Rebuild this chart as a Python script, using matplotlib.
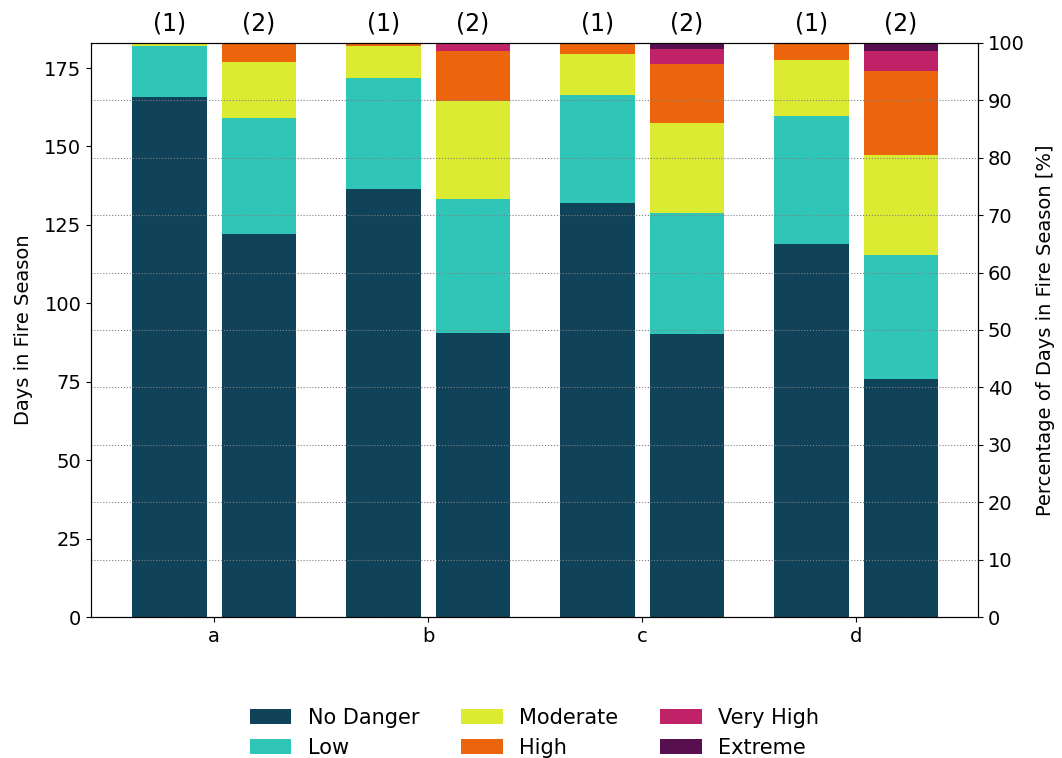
import numpy as np
import matplotlib
matplotlib.use("Agg")
import matplotlib.pyplot as plt

# days per danger class, bars a(1), a(2), b(1), b(2), ... d(2)
groups = ["a", "b", "c", "d"]
bar_tags = ["(1)", "(2)"]
classes = ["No Danger", "Low", "Moderate", "High", "Very High", "Extreme"]
colors = ["#104259", "#2fc6b8", "#dbeb32", "#ec650c", "#c02268", "#570f4f"]

no_danger = [165.7, 122.0, 136.6, 90.6, 131.9, 90.1, 118.9, 76.0]
low       = [16.3, 37.0, 35.3, 42.6, 34.5, 38.6, 40.9, 39.3]
moderate  = [1.0, 17.9, 10.1, 31.3, 13.2, 28.7, 17.8, 32.0]
high      = [0.0, 6.1, 1.0, 16.1, 3.4, 19.0, 5.4, 26.7]
very_high = [0.0, 0.0, 0.0, 2.4, 0.0, 4.7, 0.0, 6.6]
extreme   = [0.0, 0.0, 0.0, 0.0, 0.0, 1.9, 0.0, 2.4]

season_days = 183

series = [no_danger, low, moderate, high, very_high, extreme]

fig = plt.figure(figsize=(10.62, 7.58), dpi=100)
ax = fig.add_axes([0.0857, 0.186, 0.8352, 0.7573])

width = 0.35
offset = 0.21
x = np.arange(len(groups))
pos = []
for i in x:
    pos += [i - offset, i + offset]
pos = np.array(pos)

bottom = np.zeros(len(pos))
for name, vals, col in zip(classes, series, colors):
    vals = np.array(vals)
    ax.bar(pos, vals, width, bottom=bottom, color=col, label=name)
    bottom += vals

ax.set_xlim(-0.575, 3.57)
ax.set_ylim(0, season_days)
ax.set_xticks(x)
ax.set_xticklabels(groups)
ax.set_ylabel("Days in Fire Season", fontsize=14, labelpad=8)
ax.tick_params(labelsize=14)

for p, tag in zip(pos, bar_tags * len(groups)):
    ax.text(p, season_days + 2.3, tag, ha="center", va="bottom", fontsize=17)

ax2 = ax.twinx()
ax2.set_ylim(0, 100)
ax2.set_yticks(np.arange(0, 101, 10))
ax2.grid(axis="y", linestyle=":", color="gray", linewidth=0.8)
ax2.set_ylabel("Percentage of Days in Fire Season [%]", fontsize=14, labelpad=8)
ax2.tick_params(labelsize=14)

ax.legend(loc="upper center", bbox_to_anchor=(0.5, -0.125), ncol=3,
          frameon=False, fontsize=15, columnspacing=2.0)

fig.savefig("out.png", dpi=100)
